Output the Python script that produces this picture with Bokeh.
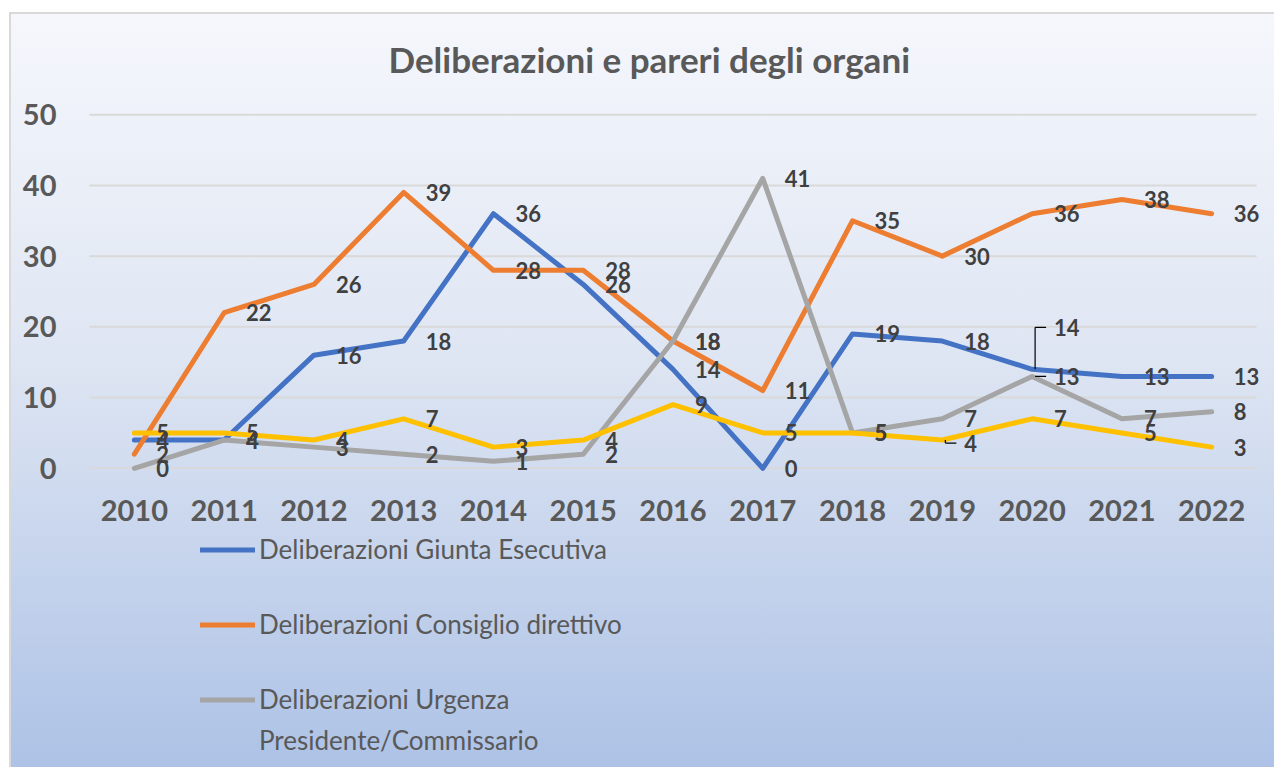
from bokeh.plotting import figure
from bokeh.layouts import column
from bokeh.models import (ColumnDataSource, LabelSet, Legend, LegendItem,
                          FactorRange, Range1d, FixedTicker)
from bokeh.transform import dodge
from bokeh.core.properties import value
from bokeh.embed import file_html
from bokeh.resources import INLINE

# ---------------- data ----------------
years = ["2010", "2011", "2012", "2013", "2014", "2015", "2016",
         "2017", "2018", "2019", "2020", "2021", "2022"]
giunta = [4, 4, 16, 18, 36, 26, 14, 0, 19, 18, 14, 13, 13]
consiglio = [2, 22, 26, 39, 28, 28, 18, 11, 35, 30, 36, 38, 36]
urgenza = [0, 4, 3, 2, 1, 2, 18, 41, 5, 7, 13, 7, 8]
pareri = [5, 5, 4, 7, 3, 4, 9, 5, 5, 4, 7, 5, 3]

legend_lines = ["Deliberazioni Giunta Esecutiva",
                "Deliberazioni Consiglio direttivo",
                "Deliberazioni Urgenza",
                "Presidente/Commissario"]
series = [giunta, consiglio, urgenza, pareri]
colors = ["#4472C4", "#ED7D31", "#A5A5A5", "#FFC000"]
y_ticks = [0, 10, 20, 30, 40, 50]

# moved data labels: (series index, year) -> vertical pixel offset (with leader line)
label_nudge = {(0, "2020"): 42, (3, "2019"): -3, (2, "2020"): 0}

FONT = "Lato"
TXT = "#595959"
W = 1265
PX_PER_UNIT = 354 / 50.0       # pixels per y unit
PX_PER_CAT = 1167 / 13.0       # pixels per category
PAD = 0.2                      # extra room (in categories) so edge labels are not clipped

p = figure(x_range=FactorRange(*years, range_padding=PAD,
                               range_padding_units="absolute"),
           y_range=Range1d(-2, 52),
           width=W, height=520, output_backend="svg",
           toolbar_location=None,
           min_border_left=62, min_border_right=0,
           min_border_top=88, min_border_bottom=50)
p.background_fill_alpha = 0
p.border_fill_alpha = 0
p.outline_line_color = None

p.title.text = "Deliberazioni e pareri degli organi"
p.title.text_font = FONT
p.title.text_font_size = "35px"
p.title.text_font_style = "bold"
p.title.text_color = TXT
p.title.align = "left"
p.title.offset = 317
p.title.standoff = 42

p.grid.grid_line_color = None
p.yaxis.ticker = FixedTicker(ticks=y_ticks)

for ax in (p.xaxis, p.yaxis):
    ax.axis_line_color = None
    ax.major_tick_line_color = None
    ax.minor_tick_line_color = None
    ax.major_label_text_font = FONT
    ax.major_label_text_font_size = "29px"
    ax.major_label_text_font_style = "bold"
    ax.major_label_text_color = TXT
p.yaxis.major_label_standoff = 9
p.xaxis.major_label_standoff = 11

# horizontal gridlines spanning the category band
gsrc = ColumnDataSource(dict(y=y_ticks, a=[years[0]] * len(y_ticks),
                             b=[years[-1]] * len(y_ticks)))
p.segment(x0=dodge("a", -0.5, range=p.x_range), y0="y",
          x1=dodge("b", 0.5, range=p.x_range), y1="y",
          source=gsrc, line_color="#d9d9d9", line_width=2)

for i, (vals, col) in enumerate(zip(series, colors)):
    src = ColumnDataSource(dict(x=years, y=vals))
    p.line("x", "y", source=src, line_color=col, line_width=5,
           line_join="round", line_cap="round")

# leader lines for moved labels (derived from the data values)
lx, ly0, ly1 = [], [], []
for (i, yr), dy in label_nudge.items():
    v = series[i][years.index(yr)]
    lx.append(yr)
    ly0.append(v)
    ly1.append(v + dy / PX_PER_UNIT)
lsrc = ColumnDataSource(dict(x=lx, y0=ly0, y1=ly1))
p.segment(x0=dodge("x", 3 / PX_PER_CAT, range=p.x_range), y0="y0",
          x1=dodge("x", 3 / PX_PER_CAT, range=p.x_range), y1="y1",
          source=lsrc, line_color="black", line_width=1.2)
p.segment(x0=dodge("x", 3 / PX_PER_CAT, range=p.x_range), y0="y1",
          x1=dodge("x", 14 / PX_PER_CAT, range=p.x_range), y1="y1",
          source=lsrc, line_color="black", line_width=1.2)

for i, vals in enumerate(series):
    src = ColumnDataSource(dict(x=years, y=vals, t=[str(v) for v in vals],
                                dy=[label_nudge.get((i, yr), 0) for yr in years]))
    labels = LabelSet(x="x", y="y", text="t", source=src, x_offset=22,
                      y_offset="dy", text_align="left", text_baseline="middle",
                      text_font=value(FONT), text_font_size="22px",
                      text_font_style="bold", text_color="#404040")
    p.add_layout(labels)

# ---------------- legend strip below the axis ----------------
q = figure(width=W, height=235, output_backend="svg", toolbar_location=None,
           x_range=Range1d(0, 1), y_range=Range1d(0, 1),
           min_border_left=62, min_border_right=0,
           min_border_top=0, min_border_bottom=0)
q.axis.visible = False
q.grid.grid_line_color = None
q.outline_line_color = None
q.background_fill_alpha = 0
q.border_fill_alpha = 0

nan = float("nan")
items = []
for i in range(3):
    r = q.line(x=[nan], y=[nan], line_color=colors[i], line_width=5,
               line_cap="round")
    items.append(LegendItem(label=legend_lines[i], renderers=[r]))
r_blank = q.line(x=[nan], y=[nan], line_color=colors[2], line_alpha=0)

legend_style = dict(orientation="vertical",
                    label_text_font=FONT, label_text_font_size="26px",
                    label_text_color=TXT,
                    glyph_width=55, glyph_height=31, label_standoff=4,
                    spacing=43, padding=0, margin=0,
                    border_line_color=None, background_fill_alpha=0)
legend = Legend(items=items, location=(129, 52), **legend_style)
legend2 = Legend(items=[LegendItem(label=legend_lines[3], renderers=[r_blank])],
                 location=(129, 11), **legend_style)
q.add_layout(legend, "center")
q.add_layout(legend2, "center")

layout = column(p, q, spacing=0)
layout.margin = (12, 0, 0, 9)
layout.styles = {"background": "linear-gradient(to bottom, #f5f7fc 0%, #dfe6f3 45%, #adc2e6 100%)",
                 "box-shadow": "inset 2px 2px 0 #d9d9d9"}

open("out.html", "w").write(file_html(layout, INLINE))
